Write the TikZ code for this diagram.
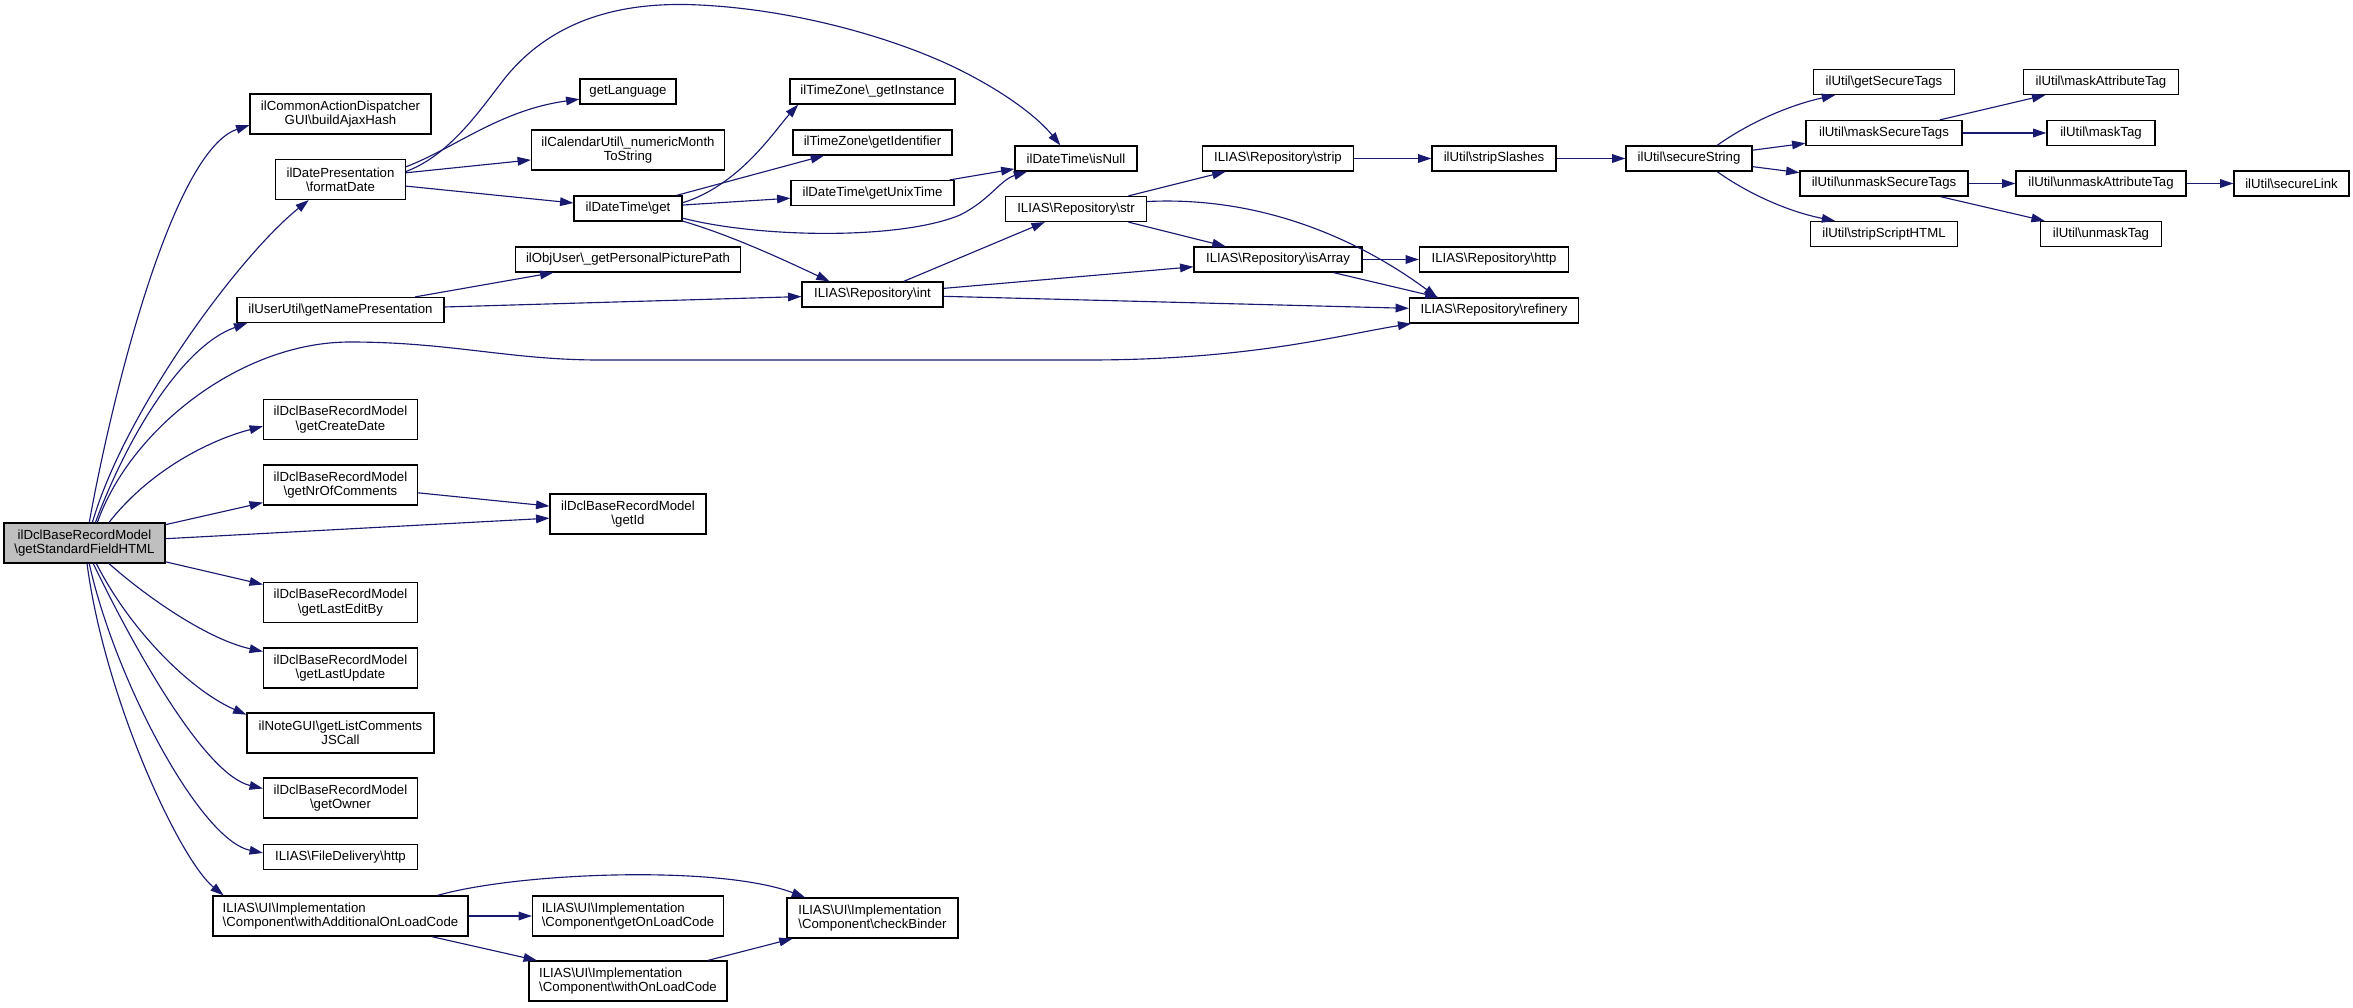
\documentclass[tikz,border=0pt]{standalone}
\usepackage{fontspec}
\newfontfamily\dxfont{Liberation Sans}
\definecolor{edgeblue}{RGB}{25,25,112}
\definecolor{maingray}{RGB}{191,191,191}
\usetikzlibrary{arrows.meta}
\tikzset{
	>={Triangle[length=10pt,width=6.5pt]},
	funcbox/.style={
		rectangle,
		draw=black, line width=0.9pt,
		fill=white,
		font=\dxfont\fontsize{9.9pt}{10.8pt}\selectfont,
		inner xsep=3pt, inner ysep=1pt,
		minimum height=18.75pt,
		align=center},
	funcbox2/.style={funcbox, minimum height=30pt},
	funcleft/.style={funcbox2, align=left},
	funcmain/.style={funcbox2, fill=maingray},
	boxw/.style={minimum width=#1*0.75pt},
	call/.style={draw=edgeblue, line width=0.85pt, ->},
}
\newcommand*\bsl{\textbackslash}

\begin{document}
\begin{tikzpicture}
[x=0.75pt, y=-0.75pt]
\useasboundingbox (0,0) rectangle (2353,1007);

\node[funcmain, boxw=161] (main) at (84.5,543) {ilDclBaseRecordModel\\\bsl getStandardFieldHTML};

\node[funcbox2, boxw=181] (ajax) at (340.5,114) {ilCommonActionDispatcher\\GUI\bsl buildAjaxHash};
\node[funcbox2, boxw=130] (fmtdate) at (340.5,179.5) {ilDatePresentation\\\bsl formatDate};
\node[funcbox, boxw=207] (namepres) at (340.5,310) {ilUserUtil\bsl getNamePresentation};
\node[funcbox2, boxw=154] (createdate) at (340.5,419.5) {ilDclBaseRecordModel\\\bsl getCreateDate};
\node[funcbox2, boxw=154] (nrcomm) at (340.5,485) {ilDclBaseRecordModel\\\bsl getNrOfComments};
\node[funcbox2, boxw=154] (lastedit) at (340.5,602.5) {ilDclBaseRecordModel\\\bsl getLastEditBy};
\node[funcbox2, boxw=154] (lastupd) at (340.5,668) {ilDclBaseRecordModel\\\bsl getLastUpdate};
\node[funcbox2, boxw=187] (listcomm) at (340.5,733) {ilNoteGUI\bsl getListComments\\JSCall};
\node[funcbox2, boxw=154] (owner) at (340.5,798) {ilDclBaseRecordModel\\\bsl getOwner};
\node[funcbox, boxw=154] (fdhttp) at (340.5,857) {ILIAS\bsl FileDelivery\bsl http};
\node[funcleft, boxw=255] (addload) at (340.5,916) {ILIAS\bsl UI\bsl Implementation\\\bsl Component\bsl withAdditionalOnLoadCode};

\node[funcbox, boxw=96] (lang) at (628,91.5) {getLanguage};
\node[funcbox2, boxw=193] (month) at (628,150) {ilCalendarUtil\bsl\_numericMonth\\ToString};
\node[funcbox, boxw=108] (dtget) at (628,208.5) {ilDateTime\bsl get};
\node[funcbox, boxw=225] (picpath) at (628,259.5) {ilObjUser\bsl\_getPersonalPicturePath};
\node[funcbox2, boxw=156] (getid) at (628,514) {ilDclBaseRecordModel\\\bsl getId};
\node[funcleft, boxw=191] (getload) at (628,916) {ILIAS\bsl UI\bsl Implementation\\\bsl Component\bsl getOnLoadCode};
\node[funcleft, boxw=198] (withload) at (628,981) {ILIAS\bsl UI\bsl Implementation\\\bsl Component\bsl withOnLoadCode};

\node[funcbox, boxw=165] (tzinst) at (872.5,91.5) {ilTimeZone\bsl\_getInstance};
\node[funcbox, boxw=159] (tzid) at (872.5,142.5) {ilTimeZone\bsl getIdentifier};
\node[funcbox, boxw=163] (unixtime) at (872.5,193) {ilDateTime\bsl getUnixTime};
\node[funcbox, boxw=141] (repint) at (872.5,294.5) {ILIAS\bsl Repository\bsl int};
\node[funcleft, boxw=171] (binder) at (872.5,918) {ILIAS\bsl UI\bsl Implementation\\\bsl Component\bsl checkBinder};

\node[funcbox, boxw=122] (isnull) at (1076,158.5) {ilDateTime\bsl isNull};
\node[funcbox, boxw=141] (repstr) at (1076,209) {ILIAS\bsl Repository\bsl str};

\node[funcbox, boxw=151] (repstrip) at (1278,158.5) {ILIAS\bsl Repository\bsl strip};
\node[funcbox, boxw=168] (isarray) at (1278,259.5) {ILIAS\bsl Repository\bsl isArray};

\node[funcbox, boxw=124] (stripsl) at (1494,158.5) {ilUtil\bsl stripSlashes};
\node[funcbox, boxw=149] (rephttp) at (1494,259.5) {ILIAS\bsl Repository\bsl http};
\node[funcbox, boxw=169] (refinery) at (1494,310.5) {ILIAS\bsl Repository\bsl refinery};

\node[funcbox, boxw=126] (securestr) at (1689,158.5) {ilUtil\bsl secureString};

\node[funcbox, boxw=141] (getsectags) at (1884,82) {ilUtil\bsl getSecureTags};
\node[funcbox, boxw=156] (masksec) at (1884,133) {ilUtil\bsl maskSecureTags};
\node[funcbox, boxw=168] (unmasksec) at (1884,183.5) {ilUtil\bsl unmaskSecureTags};
\node[funcbox, boxw=147] (stripscript) at (1884,234) {ilUtil\bsl stripScriptHTML};

\node[funcbox, boxw=155] (maskattr) at (2101,82) {ilUtil\bsl maskAttributeTag};
\node[funcbox, boxw=108] (masktag) at (2101,133) {ilUtil\bsl maskTag};
\node[funcbox, boxw=170] (unmaskattr) at (2101,183.5) {ilUtil\bsl unmaskAttributeTag};
\node[funcbox, boxw=121] (unmasktag) at (2101,234) {ilUtil\bsl unmaskTag};

\node[funcbox, boxw=115] (securelink) at (2291.5,183.5) {ilUtil\bsl secureLink};

% calls of getStandardFieldHTML
\draw[call] (main.77) .. controls (115,380) and (175,150) .. (ajax.187);
\draw[call] (main.69) .. controls (125,410) and (240,255) .. (fmtdate.213);
\draw[call] (main.62) .. controls (130,430) and (185,345) .. (namepres.188);
\draw[call] (main.58) .. controls (130,430) and (240,342) .. (350,342)
	.. controls (450,342) and (510,360) .. (600,360) -- (1087,360)
	.. controls (1250,360) and (1340,335) .. (refinery.189);
\draw[call] (main.40) .. controls (150,470) and (210,440) .. (createdate.185);
\draw[call] (main) -- (nrcomm);
\draw[call] (main) -- (getid);
\draw[call] (main) -- (lastedit);
\draw[call] (main.320) .. controls (150,600) and (210,640) .. (lastupd.168);
\draw[call] (main.300) .. controls (130,630) and (190,690) .. (listcomm.169);
\draw[call] (main.293) .. controls (135,650) and (205,775) .. (owner.173);
\draw[call] (main.283) .. controls (115,680) and (200,840) .. (fdhttp.177);
\draw[call] (main.277) .. controls (105,700) and (180,860) .. (addload.170);

\draw[call] (fmtdate.11) .. controls (455,148) and (500,110) .. (lang.189);
\draw[call] (fmtdate) -- (month);
\draw[call] (fmtdate) -- (dtget);
\draw[call] (fmtdate.7) .. controls (450,155) and (480,110) .. (505,78)
	.. controls (560,10) and (640,2) .. (700,5)
	.. controls (800,10) and (900,40) .. (960,70)
	.. controls (1010,95) and (1040,120) .. (isnull.140);

\draw[call] (dtget.6) .. controls (740,185) and (775,130) .. (tzinst.190);
\draw[call] (dtget) -- (tzid);
\draw[call] (dtget) -- (unixtime);
\draw[call] (dtget.350) .. controls (760,238) and (900,240) .. (960,215)
	.. controls (990,200) and (1000,180) .. (isnull.195);
\draw[call] (dtget.347) .. controls (730,235) and (780,258) .. (repint.163);
\draw[call] (unixtime) -- (isnull);

\draw[call] (namepres) -- (picpath);
\draw[call] (namepres) -- (repint);
\draw[call] (nrcomm) -- (getid);

\draw[call] (repint) -- (repstr);
\draw[call] (repint) -- (isarray);
\draw[call] (repint) -- (refinery);
\draw[call] (repstr) -- (repstrip);
\draw[call] (repstr) -- (isarray);
\draw[call] (repstr.6) .. controls (1280,195) and (1380,255) .. (refinery.167);
\draw[call] (isarray) -- (rephttp);
\draw[call] (isarray) -- (refinery);
\draw[call] (repstrip) -- (stripsl);
\draw[call] (stripsl) -- (securestr);

\draw[call] (securestr.25) .. controls (1750,122) and (1790,105) .. (getsectags.195);
\draw[call] (securestr) -- (masksec);
\draw[call] (securestr) -- (unmasksec);
\draw[call] (securestr.335) .. controls (1750,195) and (1790,212) .. (stripscript.165);
\draw[call] (masksec) -- (maskattr);
\draw[call] (masksec) -- (masktag);
\draw[call] (unmasksec) -- (unmaskattr);
\draw[call] (unmasksec) -- (unmasktag);
\draw[call] (unmaskattr) -- (securelink);

\draw[call] (addload) -- (getload);
\draw[call] (addload) -- (withload);
\draw[call] (addload.12) .. controls (520,872) and (720,865) .. (binder.163);
\draw[call] (withload) -- (binder);
\end{tikzpicture}
\end{document}
